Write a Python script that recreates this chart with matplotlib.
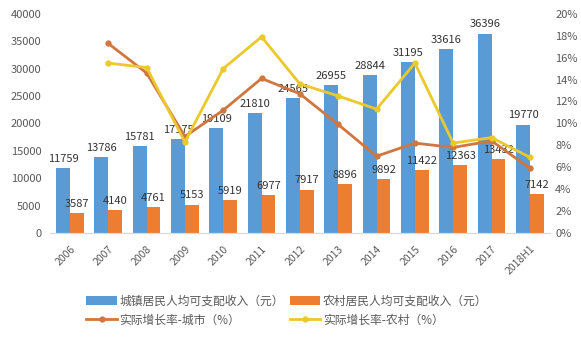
import matplotlib

matplotlib.use("Agg")

import matplotlib.pyplot as plt  # noqa: E402
import numpy as np  # noqa: E402

plt.rcParams["font.family"] = ["Noto Sans CJK SC", "DejaVu Sans"]

years = ["2006", "2007", "2008", "2009", "2010", "2011", "2012",
         "2013", "2014", "2015", "2016", "2017", "2018H1"]
urban_income = [11759, 13786, 15781, 17175, 19109, 21810, 24565,
                26955, 28844, 31195, 33616, 36396, 19770]
rural_income = [3587, 4140, 4761, 5153, 5919, 6977, 7917,
                8896, 9892, 11422, 12363, 13432, 7142]
# real growth rates (%), no value for 2006
urban_growth = [None, 17.3, 14.6, 8.8, 11.2, 14.1, 12.7,
                9.9, 7.0, 8.2, 7.8, 8.4, 5.9]
rural_growth = [None, 15.5, 15.1, 8.3, 15.0, 17.9, 13.6,
                12.5, 11.3, 15.5, 8.2, 8.7, 6.9]

BLUE = "#5b9bd5"
ORANGE = "#ed7d31"
LINE_ORANGE = "#d0763e"
LINE_YELLOW = "#ebc92c"
GREY = "#595959"

x = np.arange(len(years))
w = 0.36

fig = plt.figure(figsize=(5.81, 3.55), dpi=100)
ax = fig.add_axes([0.086, 0.344, 0.861, 0.617])
ax2 = ax.twinx()

b1 = ax.bar(x - w / 2, urban_income, w, color=BLUE, label="城镇居民人均可支配收入（元）")
b2 = ax.bar(x + w / 2, rural_income, w, color=ORANGE, label="农村居民人均可支配收入（元）")
ax.bar_label(b1, padding=3, fontsize=8, color="#333333")
ax.bar_label(b2, padding=3, fontsize=8, color="#333333")

ug = np.array([np.nan if v is None else v for v in urban_growth]) / 100
rg = np.array([np.nan if v is None else v for v in rural_growth]) / 100
l1, = ax2.plot(x, ug, color=LINE_ORANGE, lw=2, marker="o", ms=3.5,
               label="实际增长率-城市（%）")
l2, = ax2.plot(x, rg, color=LINE_YELLOW, lw=2, marker="o", ms=3.5,
               label="实际增长率-农村（%）")

ax.set_xlim(-0.52, 12.53)
ax.set_ylim(0, 40000)
ax.set_yticks(range(0, 40001, 5000))
ax2.set_ylim(0, 0.2)
ax2.set_yticks(np.arange(0, 0.201, 0.02))
ax2.set_yticklabels([f"{int(round(v * 100))}%" for v in np.arange(0, 0.201, 0.02)])

ax.set_xticks(x)
ax.set_xticklabels(years, rotation=45, ha="right", rotation_mode="anchor")

for a in (ax, ax2):
    for s in ("top", "left", "right"):
        a.spines[s].set_visible(False)
    a.spines["bottom"].set_color("#d9d9d9")
    a.tick_params(length=0, labelsize=8, labelcolor=GREY)
ax.tick_params(axis="y", pad=6)
ax.tick_params(axis="x", pad=8, labelsize=7.5)

fig.legend([b1, l1, b2, l2],
           [b1.get_label(), l1.get_label(), b2.get_label(), l2.get_label()],
           ncol=2, loc="upper left", bbox_to_anchor=(0.13, 0.2),
           frameon=False, fontsize=8.5, labelcolor=GREY,
           handlelength=2.6, handletextpad=0.2, columnspacing=0.5,
           labelspacing=0.5)

fig.savefig("out.png", dpi=100)
plt.close(fig)
